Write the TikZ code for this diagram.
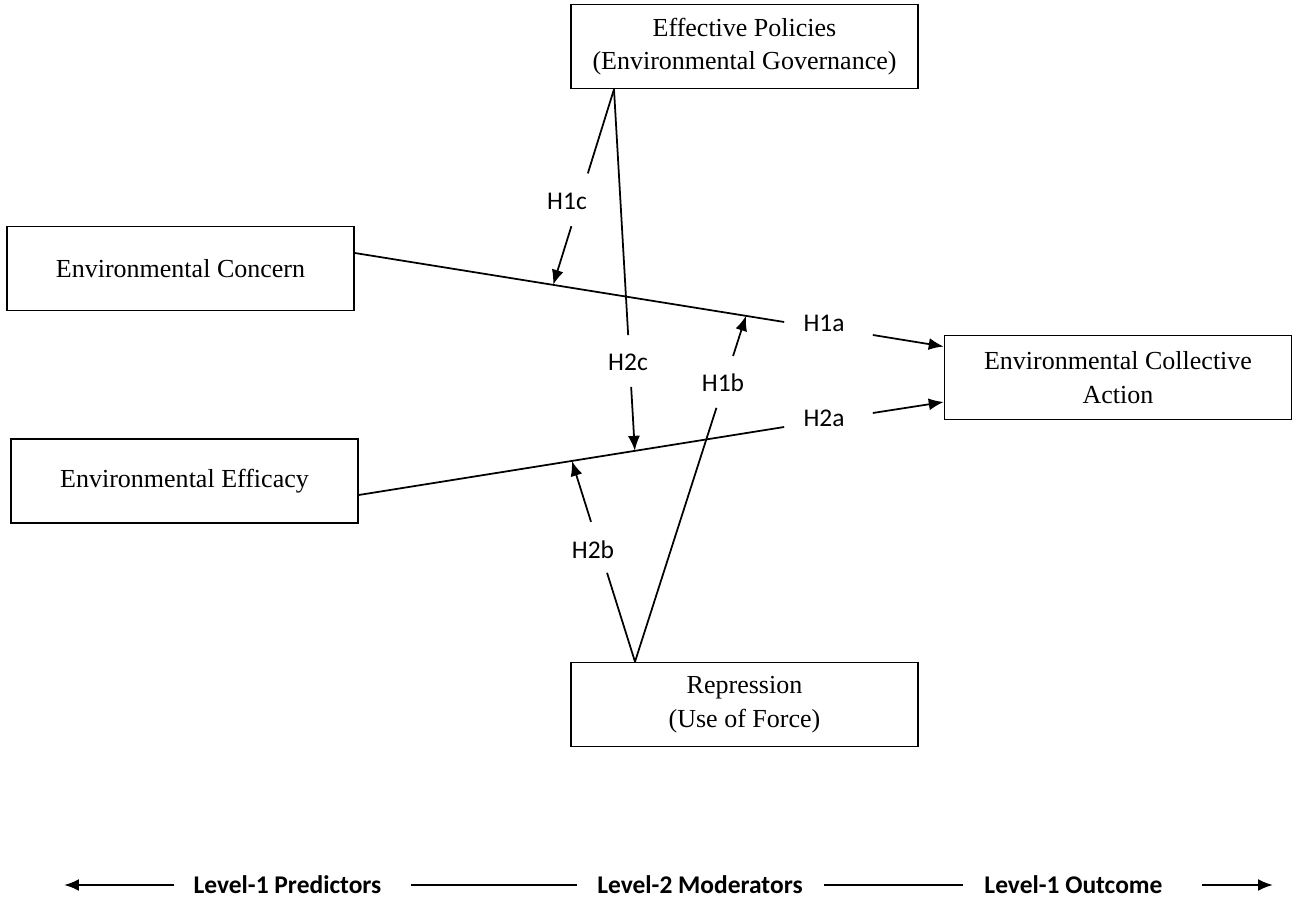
\documentclass[tikz,border=0pt]{standalone}
\usepackage{fontspec}
\setmainfont{Liberation Serif}
\newfontfamily\labelfont{Carlito}
\usetikzlibrary{calc, positioning, arrows.meta}

\begin{document}
\begin{tikzpicture}[x=0.02cm,y=-0.02cm,
  box/.style={draw, line width=0.9pt, minimum width=6.94cm, minimum height=1.68cm, inner sep=0pt, align=center, font=\fontsize{14.8}{19}\selectfont},
  hyp/.style={inner sep=0pt, font=\labelfont\fontsize{14.5}{16}\selectfont},
  lvl/.style={inner sep=0pt, font=\labelfont\bfseries\fontsize{14.5}{16}\selectfont},
  ln/.style={line width=1pt},
  arr/.style={line width=1pt, -{Latex[length=3mm,width=2.4mm]}}]
\useasboundingbox (0,0) rectangle (1299,908);

% constructs
\node[box] (pol) at (744.5,46.5) {Effective Policies\\(Environmental Governance)};
\node[box] (conc) at (180.5,268.5) {Environmental Concern};
\node[box] (eff) at (184.5,481) {Environmental Efficacy};
\node[box] (act) at (1118,377.5) {Environmental Collective\\Action};
\node[box] (rep) at (744.5,704.5) {Repression\\(Use of Force)};

% hypothesis labels
\node[hyp] (h1a) at (824,323) {H1a};
\node[hyp] (h2a) at (824,418) {H2a};
\node[hyp] (h1c) at (567,201) {H1c};
\node[hyp] (h2c) at (628,362) {H2c};
\node[hyp] (h1b) at (723,383) {H1b};
\node[hyp] (h2b) at (593,550) {H2b};

% main paths
\coordinate (cs) at ($(conc.east)+(0,-15.5)$);
\coordinate (ce) at ($(h1a.west)+(-19,-1)$);
\coordinate (es) at ($(eff.east)+(0,14)$);
\coordinate (ee) at ($(h2a.west)+(-19,9)$);
\draw[ln] (cs) -- (ce);
\draw[ln] (es) -- (ee);
\draw[arr] ($(h1a.east)+(28,12)$) -- ($(act.west)+(0,-31)$);
\draw[arr] ($(h2a.east)+(28,-5)$) -- ($(act.west)+(0,24.5)$);

% moderation
\coordinate (pb) at ($(pol.south)+(-130.5,0)$);
\coordinate (rt) at ($(rep.north)+(-109.5,0)$);
\coordinate (t1c) at ($(cs)!0.462!(ce)$);
\coordinate (t1b) at ($(cs)!0.911!(ce)$);
\coordinate (t2c) at ($(es)!0.649!(ee)$);
\coordinate (t2b) at ($(es)!0.501!(ee)$);
\draw[ln] (pb) -- ($(pb)!0.43!(t1c)$);
\draw[arr] ($(pb)!0.70!(t1c)$) -- (t1c);
\draw[ln] (pb) -- ($(pb)!0.68!(t2c)$);
\draw[arr] ($(pb)!0.823!(t2c)$) -- (t2c);
\draw[ln] (rt) -- ($(rt)!0.734!(t1b)$);
\draw[arr] ($(rt)!0.884!(t1b)$) -- (t1b);
\draw[ln] (rt) -- ($(rt)!0.443!(t2b)$);
\draw[arr] ($(rt)!0.697!(t2b)$) -- (t2b);

% levels
\node[lvl] (lp) at (287.5,885) {Level-1 Predictors};
\node[lvl] (lm) at (700,885) {Level-2 Moderators};
\node[lvl] (lo) at (1073.5,885) {Level-1 Outcome};
\coordinate (lend) at (64,885);
\coordinate (rend) at (1273,885);
\draw[arr,line width=1.3pt] ($(lp.west)+(-19,0)$) -- (lend);
\draw[ln,line width=1.3pt] ($(lp.east)+(29,0)$) -- ($(lm.west)+(-20,0)$);
\draw[ln,line width=1.3pt] ($(lm.east)+(21,0)$) -- ($(lo.west)+(-21,0)$);
\draw[arr,line width=1.3pt] ($(lo.east)+(39,0)$) -- (rend);
\end{tikzpicture}
\end{document}
